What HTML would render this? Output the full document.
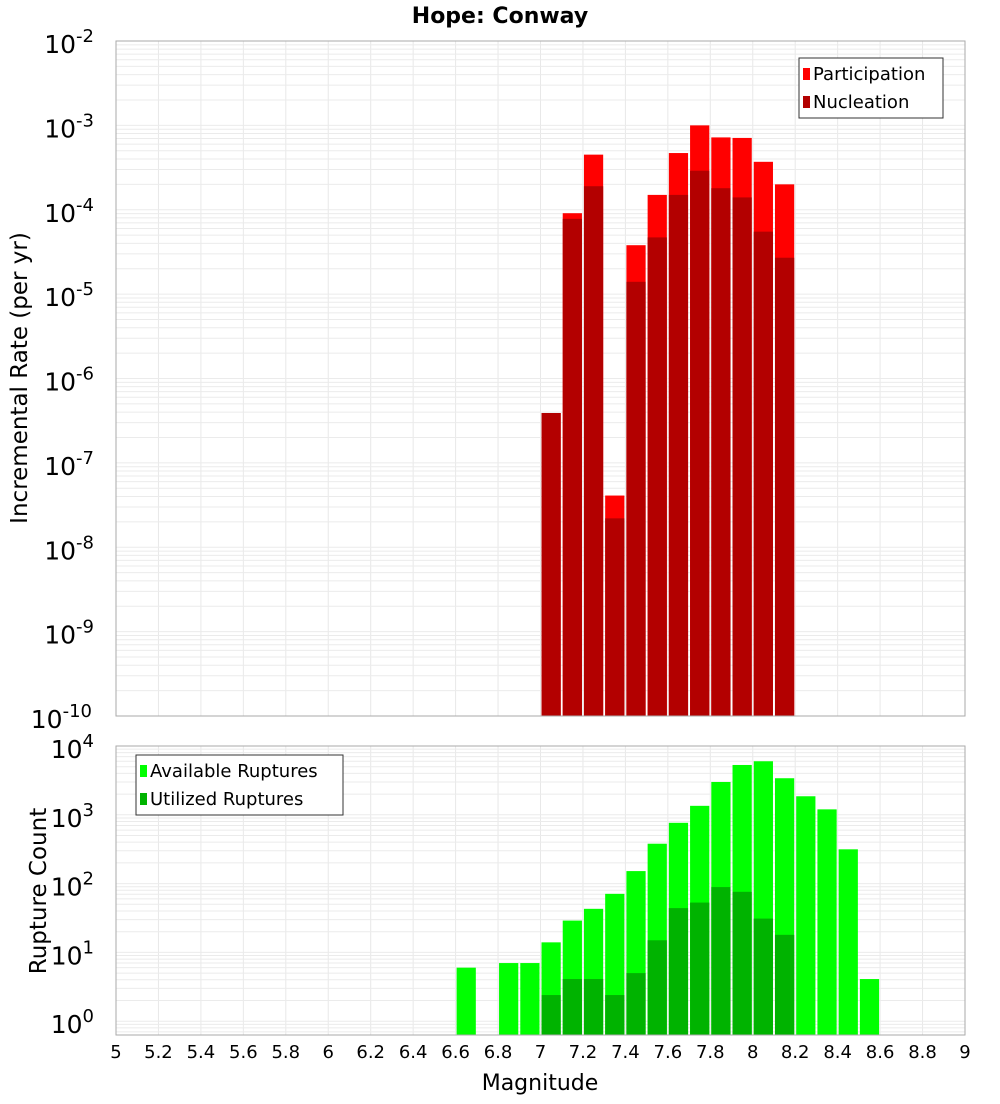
<!DOCTYPE html>
<html><head><meta charset="utf-8"><style>
body{margin:0;background:#fff;width:1000px;height:1100px;overflow:hidden;font-family:"DejaVu Sans","Liberation Sans",sans-serif}
svg text{font-family:"DejaVu Sans","Liberation Sans",sans-serif}
</style></head><body>
<svg id="c" width="1000" height="1100" xmlns="http://www.w3.org/2000/svg"></svg>
<script>
const mags=[7.05,7.15,7.25,7.35,7.45,7.55,7.65,7.75,7.85,7.95,8.05,8.15];
const participation=[3.9e-7,9.1e-5,4.5e-4,4.1e-8,3.8e-5,1.5e-4,4.7e-4,1.0e-3,7.2e-4,7.1e-4,3.7e-4,2.0e-4];
const nucleation=[3.9e-7,7.8e-5,1.9e-4,2.2e-8,1.4e-5,4.7e-5,1.5e-4,2.9e-4,1.8e-4,1.4e-4,5.5e-5,2.7e-5];
const cMags=[6.65,6.85,6.95,7.05,7.15,7.25,7.35,7.45,7.55,7.65,7.75,7.85,7.95,8.05,8.15,8.25,8.35,8.45,8.55];
const available=[6,7,7,14,29,43,71,152,380,765,1350,3000,5300,6000,3400,1860,1200,315,4.1];
const utilized=[0,0,0,2.4,4.1,4.1,2.4,5,15,44,53,89,76,31,18,0,0,0,0];
const xTicks=[5,5.2,5.4,5.6,5.8,6,6.2,6.4,6.6,6.8,7,7.2,7.4,7.6,7.8,8,8.2,8.4,8.6,8.8,9];
const topExp=[-2,-3,-4,-5,-6,-7,-8,-9,-10];
const botExp=[4,3,2,1,0];

const NS="http://www.w3.org/2000/svg",svg=document.getElementById('c');
function el(t,a,p){const e=document.createElementNS(NS,t);for(const k in a)e.setAttribute(k,a[k]);(p||svg).appendChild(e);return e;}
const L=116,R=965;
const X=m=>L+(m-5)/4*(R-L);
const T0=41,T1=716;const Yt=v=>T0+(-2-Math.log10(v))*(T1-T0)/8;
const B0=746,BD=68.8;const Yb=v=>B0+(4-Math.log10(v))*BD;const B1=1035;

function grid(y0,y1,yf,eMin,eMax){
  const g=el('g',{});
  
  for(let m=5;m<=9.001;m+=0.2){el('line',{x1:X(m),x2:X(m),y1:y0,y2:y1,stroke:'#e8e8e8'},g);}
  for(let e=eMin;e<=eMax;e++)for(let k=1;k<10;k++){const y=yf(k*Math.pow(10,e));if(y>=y0&&y<=y1)el('line',{x1:L,x2:R,y1:y,y2:y,stroke:'#ebebeb'},g);}
}
grid(T0,T1,Yt,-10,-3);grid(B0,B1,Yb,-1,3);

mags.forEach((m,i)=>{
  let r=el('rect',{x:X(m-0.05)+1,width:X(0.1)-X(0)-2,y:Yt(participation[i]),height:T1-Yt(participation[i]),fill:'#ff0000'});
  
  r=el('rect',{x:X(m-0.05)+1,width:X(0.1)-X(0)-2,y:Yt(nucleation[i]),height:T1-Yt(nucleation[i]),fill:'#b30000'});
  
});
cMags.forEach((m,i)=>{
  let r=el('rect',{x:X(m-0.05)+1,width:X(0.1)-X(0)-2,y:Yb(available[i]),height:B1-Yb(available[i]),fill:'#00ff00'});
  
  if(utilized[i]>0){r=el('rect',{x:X(m-0.05)+1,width:X(0.1)-X(0)-2,y:Yb(utilized[i]),height:B1-Yb(utilized[i]),fill:'#00b300'});
  }
});
let f=el('rect',{x:L,y:T0,width:R-L,height:T1-T0,fill:'none',stroke:'#aaa'});
f=el('rect',{x:L,y:B0,width:R-L,height:B1-B0,fill:'none',stroke:'#aaa'});

function pow(x,y,e,name){
  const t=el('text',{x:x,y:y,'text-anchor':'end','font-size':25,fill:'#000'});
  
  t.textContent='10';const s=el('tspan',{dy:-11,'font-size':18},t);s.textContent=e;
}
topExp.forEach(e=>pow(e===-10?92:94,Yt(Math.pow(10,e))+12,e,'y-tick-label'));
botExp.forEach(e=>pow(94,Yb(Math.pow(10,e))+12,e,'y-tick-label-count'));
xTicks.forEach(m=>{const t=el('text',{x:X(m),y:1058,'text-anchor':'middle','font-size':18});t.textContent=String(m);});

let t=el('text',{x:500,y:23,'text-anchor':'middle','font-size':22,'font-weight':'bold'});t.textContent='Hope: Conway';
t=el('text',{x:540,y:1090,'text-anchor':'middle','font-size':22});t.textContent='Magnitude';
t=el('text',{x:0,y:0,'text-anchor':'middle','font-size':23,transform:'translate(27,378) rotate(-90)'});t.textContent='Incremental Rate (per yr)';
t=el('text',{x:0,y:0,'text-anchor':'middle','font-size':23,transform:'translate(46,891) rotate(-90)'});t.textContent='Rupture Count';

function legend(x,y,w,items,name){
  const g=el('g',{});
  el('rect',{x:x,y:y,width:w,height:60,fill:'#fff',stroke:'#333'},g);
  items.forEach((it,i)=>{el('rect',{x:x+4,y:y+10+i*28,width:7,height:12,fill:it[1]},g);
    const tt=el('text',{x:x+14,y:y+22+i*28,'font-size':18},g);tt.textContent=it[0];});
}
legend(799,58,144,[['Participation','#ff0000'],['Nucleation','#b30000']],'legend-top');
legend(136,755,207,[['Available Ruptures','#00ff00'],['Utilized Ruptures','#00b300']],'legend-bottom');
</script>
</body></html>
